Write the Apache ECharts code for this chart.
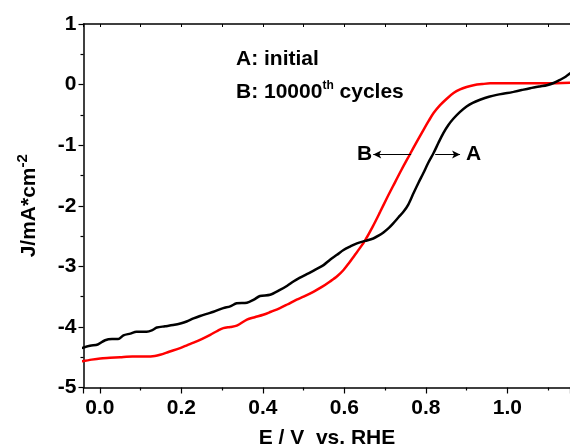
<!DOCTYPE html>
<html><head><meta charset="utf-8">
<script src="https://cdn.jsdelivr.net/npm/echarts@6/dist/echarts.min.js"></script>
<style>html,body{margin:0;padding:0;background:#fff}#c{width:570px;height:446px}</style>
</head><body><div id="c"></div>
<script>
// Curve A: initial (black)
const potentialA = [-0.045,-0.024,-0.005,0.013,0.03,0.045,0.058,0.075,0.09,0.115,0.13,0.14,0.16,0.18,0.2,0.213,0.23,0.246,0.265,0.279,0.303,0.32,0.336,0.361,0.378,0.393,0.418,0.442,0.46,0.475,0.49,0.508,0.53,0.549,0.565,0.582,0.598,0.615,0.631,0.651,0.671,0.685,0.696,0.71,0.72,0.733,0.745,0.757,0.77,0.782,0.794,0.806,0.819,0.831,0.843,0.855,0.868,0.884,0.9,0.915,0.933,0.955,0.974,1.0,1.015,1.035,1.056,1.08,1.097,1.115,1.13,1.143,1.155];
const currentA = [-4.35,-4.31,-4.29,-4.22,-4.20,-4.20,-4.14,-4.11,-4.08,-4.08,-4.05,-4.01,-3.99,-3.97,-3.94,-3.91,-3.86,-3.82,-3.78,-3.75,-3.69,-3.66,-3.61,-3.60,-3.55,-3.49,-3.47,-3.39,-3.32,-3.25,-3.19,-3.13,-3.05,-2.98,-2.89,-2.81,-2.73,-2.67,-2.62,-2.58,-2.54,-2.49,-2.44,-2.36,-2.29,-2.19,-2.10,-1.98,-1.79,-1.62,-1.46,-1.29,-1.13,-0.96,-0.80,-0.67,-0.56,-0.45,-0.36,-0.30,-0.25,-0.20,-0.17,-0.14,-0.12,-0.09,-0.06,-0.03,-0.01,0.03,0.08,0.13,0.19];
// Curve B: 10000th cycles (red)
const potentialB = [-0.045,-0.02,0.001,0.025,0.05,0.08,0.115,0.135,0.148,0.17,0.197,0.215,0.23,0.25,0.271,0.29,0.303,0.32,0.336,0.361,0.38,0.401,0.42,0.442,0.46,0.483,0.5,0.524,0.545,0.565,0.583,0.598,0.612,0.625,0.638,0.651,0.67,0.688,0.704,0.72,0.74,0.761,0.778,0.794,0.807,0.819,0.835,0.852,0.868,0.884,0.9,0.917,0.94,0.958,1.015,1.097,1.155];
const currentB = [-4.57,-4.54,-4.52,-4.51,-4.50,-4.49,-4.49,-4.48,-4.46,-4.41,-4.35,-4.30,-4.26,-4.20,-4.13,-4.06,-4.02,-4.00,-3.98,-3.88,-3.84,-3.80,-3.75,-3.69,-3.63,-3.55,-3.50,-3.42,-3.34,-3.25,-3.16,-3.06,-2.94,-2.82,-2.70,-2.57,-2.34,-2.10,-1.88,-1.67,-1.41,-1.15,-0.94,-0.75,-0.60,-0.47,-0.34,-0.23,-0.14,-0.08,-0.04,-0.01,0.01,0.02,0.02,0.02,0.03];
const xRange = [-0.04, 1.155];
const yRange = [-5, 1];
const yTickStep = 1;
// Arrow annotations: [from x, to x, y, label]
const arrowB = [0.764, 0.671, -1.153, 'B'];
const arrowA = [0.823, 0.884, -1.153, 'A'];
const legendLines = ['A: initial', 'B: 10000', 'th', ' cycles'];

const FF = '"Liberation Sans", Arial, sans-serif';
const FS = 21;
const zip = (xs, ys) => xs.map((x, i) => [x, ys[i]]);
const chart = echarts.init(document.getElementById('c'), null, {renderer: 'canvas'});
const arrowItem = (a, dist) => [{coord: [a[0], a[2]]}, {coord: [a[1], a[2]], label: {formatter: a[3], distance: dist}}];

chart.setOption({
  animation: false,
  backgroundColor: '#fff',
  title: [
    {text: legendLines[0], left: 236, top: 49, padding: 0, textStyle: {fontFamily: FF, fontWeight: 'bold', fontSize: FS, color: '#000'}},
    {text: legendLines[1] + '{sup|' + legendLines[2] + '}' + legendLines[3], left: 236, top: 80, padding: 0,
      textStyle: {fontFamily: FF, fontWeight: 'bold', fontSize: FS, color: '#000',
        rich: {sup: {fontFamily: FF, fontWeight: 'bold', fontSize: 12, color: '#000', verticalAlign: 'top', padding: [0, 0, 12, 0]}}}}
  ],
  grid: {left: 83.5, top: 24, width: 487, height: 363.5, containLabel: false, outerBoundsMode: 'none'},
  xAxis: [
    {type: 'value', min: xRange[0], max: xRange[1], position: 'bottom',
      name: 'E / V  vs. RHE', nameLocation: 'middle', nameGap: 40,
      nameTextStyle: {fontFamily: FF, fontWeight: 'bold', fontSize: FS, color: '#000'},
      axisLine: {show: true, onZero: false, lineStyle: {color: '#000', width: 1.5}},
      axisTick: {show: true, inside: false, length: 6, lineStyle: {color: '#000', width: 1.2}},
      minorTick: {show: true, splitNumber: 2, length: 3, lineStyle: {color: '#000', width: 1.2}},
      axisLabel: {showMinLabel: false, showMaxLabel: false, margin: 10, fontFamily: FF, fontWeight: 'bold', fontSize: FS, color: '#000', formatter: v => v.toFixed(1)},
      splitLine: {show: false}, minorSplitLine: {show: false}},
    {type: 'value', min: xRange[0], max: xRange[1], position: 'top',
      axisLine: {show: true, onZero: false, lineStyle: {color: '#000', width: 1.5}},
      axisTick: {show: true, inside: true, length: 3, lineStyle: {color: '#000', width: 1}},
      minorTick: {show: true, splitNumber: 2, length: 3, lineStyle: {color: '#000', width: 1}},
      axisLabel: {show: false}, splitLine: {show: false}}
  ],
  yAxis: {type: 'value', min: yRange[0], max: yRange[1], interval: yTickStep,
    name: 'J/mA*cm{sup|-2}', nameLocation: 'middle', nameGap: 41, nameRotate: 90,
    nameTextStyle: {fontFamily: FF, fontWeight: 'bold', fontSize: FS, color: '#000',
      rich: {sup: {fontFamily: FF, fontWeight: 'bold', fontSize: 15, color: '#000', padding: [0, 0, 12, 0]}}},
    axisLine: {show: true, onZero: false, lineStyle: {color: '#000', width: 1.5}},
    axisTick: {show: true, inside: false, length: 5, lineStyle: {color: '#000', width: 1.2}},
    minorTick: {show: true, splitNumber: 2, length: 3, lineStyle: {color: '#000', width: 1.2}},
    axisLabel: {margin: 7, fontFamily: FF, fontWeight: 'bold', fontSize: FS, color: '#000'},
    splitLine: {show: false}},
  series: [
    {name: 'A', type: 'line', data: zip(potentialA, currentA), showSymbol: false, smooth: 0.3,
      lineStyle: {color: '#000', width: 2.5}, itemStyle: {color: '#000'}, z: 3,
      markLine: {silent: true, symbol: ['none', 'arrow'], symbolSize: [6, 8], precision: 3,
        lineStyle: {color: '#000', width: 1, type: 'solid'},
        label: {show: true, position: 'end', fontFamily: FF, fontWeight: 'bold', fontSize: FS, color: '#000'},
        emphasis: {disabled: true},
        data: [arrowItem(arrowB, 1), arrowItem(arrowA, 6)]}},
    {name: 'B', type: 'line', data: zip(potentialB, currentB), showSymbol: false, smooth: 0.3,
      lineStyle: {color: '#ff0000', width: 2.5}, itemStyle: {color: '#ff0000'}, z: 2}
  ]
});
</script></body></html>
